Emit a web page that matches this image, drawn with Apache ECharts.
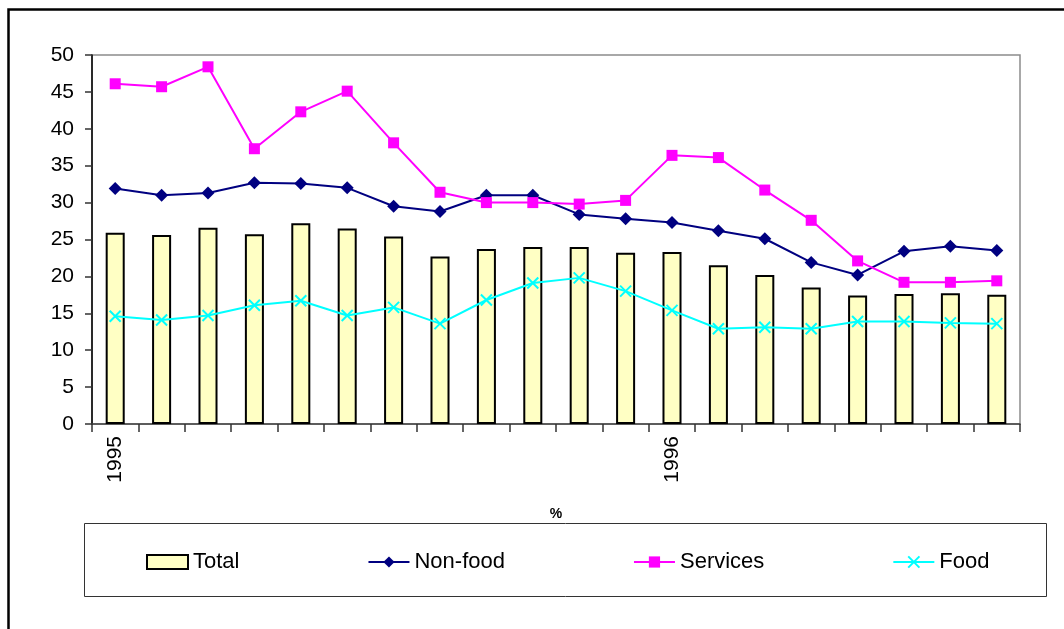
<!DOCTYPE html>
<html>
<head>
<meta charset="utf-8">
<script src="https://cdn.jsdelivr.net/npm/echarts@6/dist/echarts.min.js"></script>
<style>
  html, body { margin: 0; padding: 0; background: #fff; }
  #chart { width: 1064px; height: 629px; }
</style>
</head>
<body>
<div id="chart"></div>
<script>
// months Jan 1995 .. Aug 1996
let months = ['1995-01', '1995-02', '1995-03', '1995-04', '1995-05', '1995-06', '1995-07', '1995-08',
  '1995-09', '1995-10', '1995-11', '1995-12', '1996-01', '1996-02', '1996-03', '1996-04',
  '1996-05', '1996-06', '1996-07', '1996-08'];
let yearLabels = {'1995-01': '1995', '1996-01': '1996'};

let total = [25.9, 25.6, 26.6, 25.7, 27.2, 26.5, 25.4, 22.7, 23.7, 24.0, 24.0, 23.2, 23.3, 21.5, 20.2, 18.5, 17.4, 17.6, 17.7, 17.5];
let nonFood = [31.9, 31.0, 31.3, 32.7, 32.6, 32.0, 29.5, 28.8, 31.0, 31.0, 28.4, 27.8, 27.3, 26.2, 25.1, 21.9, 20.2, 23.4, 24.1, 23.5];
let services = [46.1, 45.7, 48.4, 37.3, 42.3, 45.1, 38.1, 31.4, 30.0, 30.0, 29.8, 30.3, 36.4, 36.1, 31.7, 27.6, 22.1, 19.2, 19.2, 19.4];
let food = [14.6, 14.1, 14.7, 16.1, 16.7, 14.7, 15.8, 13.6, 16.8, 19.1, 19.8, 18.0, 15.4, 12.9, 13.1, 12.9, 13.9, 13.9, 13.7, 13.6];

let FONT = 'Liberation Sans, Arial, sans-serif';

let line = function (name, data, color, symbol, size, extra) {
  return Object.assign({
    name: name, type: 'line', data: data,
    symbol: symbol, symbolSize: size,
    lineStyle: {color: color, width: 2},
    itemStyle: {color: color},
    emphasis: {disabled: true},
    animation: false
  }, extra || {});
};

let option = {
  animation: false,
  textStyle: {fontFamily: FONT},
  grid: {left: 92, right: 44, top: 55, bottom: 205, show: true, borderColor: '#8c8c8c', borderWidth: 1.5},
  legend: {
    left: 146, top: 551, padding: 0, itemWidth: 41, itemHeight: 14, itemGap: 128,
    textStyle: {fontFamily: FONT, fontSize: 22, color: '#000'},
    data: [{name: 'Total', icon: 'rect'}, 'Non-food', 'Services', 'Food']
  },
  xAxis: {
    type: 'category', data: months, boundaryGap: true,
    name: '%', nameLocation: 'middle', nameGap: 83,
    nameTextStyle: {fontFamily: FONT, fontSize: 14, fontWeight: 'bold', color: '#000'},
    axisLine: {lineStyle: {color: '#444', width: 1.5}},
    axisTick: {show: true, interval: 0, length: 8, lineStyle: {color: '#333', width: 1.5}},
    axisLabel: {
      interval: 0, rotate: 90, margin: 12, fontSize: 21, color: '#000', fontFamily: FONT,
      formatter: v => yearLabels[v] || ''
    },
    splitLine: {show: false}
  },
  yAxis: {
    type: 'value', min: 0, max: 50, interval: 5,
    axisLine: {show: true, lineStyle: {color: '#000', width: 1.5}},
    axisTick: {show: true, length: 7, lineStyle: {color: '#333', width: 1.5}},
    axisLabel: {fontSize: 21, color: '#000', fontFamily: FONT, margin: 18},
    splitLine: {show: false}
  },
  series: [
    {
      name: 'Total', type: 'bar', data: total, barWidth: '41%',
      itemStyle: {color: '#FFFFC4', borderColor: '#000', borderWidth: 2},
      emphasis: {disabled: true}
    },
    line('Non-food', nonFood, '#000080', 'diamond', 13),
    line('Services', services, '#FF00FF', 'rect', 11),
    line('Food', food, '#00FFFF', 'path://M0,0L10,10M10,0L0,10', 11, {
      itemStyle: {color: 'none', borderColor: '#00FFFF', borderWidth: 2}
    })
  ],
  graphic: [
    {type: 'rect', left: 6, top: 7, shape: {width: 1100, height: 700},
      style: {fill: 'none', stroke: '#000', lineWidth: 2.5}, silent: true},
    {type: 'rect', left: 82, top: 521, shape: {width: 962, height: 73},
      style: {fill: 'none', stroke: '#333', lineWidth: 1}, silent: true}
  ]
};

let myChart = echarts.init(document.getElementById('chart'));
myChart.setOption(option);
</script>
</body>
</html>
